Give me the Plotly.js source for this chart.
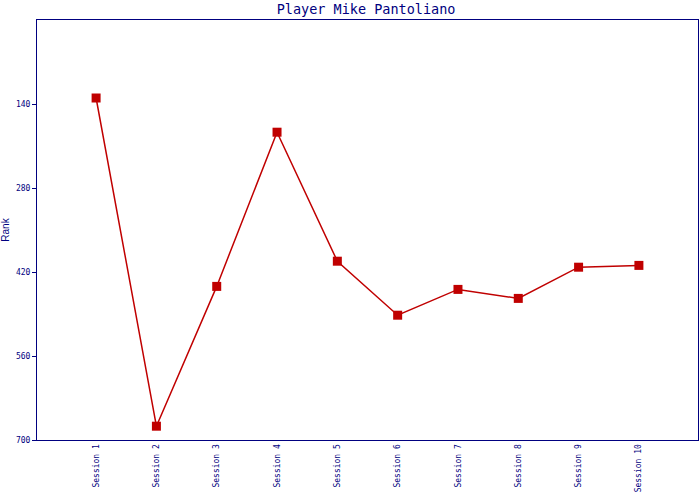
<!DOCTYPE html>
<html>
<head>
<meta charset="utf-8">
<script src="https://cdn.plot.ly/plotly-3.0.1.min.js"></script>
<style>html,body{margin:0;padding:0;background:#fff;}#chart{width:700px;height:500px;}</style>
</head>
<body>
<div id="chart"></div>
<script>
const sessions = ["Session 1","Session 2","Session 3","Session 4","Session 5","Session 6","Session 7","Session 8","Session 9","Session 10"];
const ranks = [130, 677, 444, 187, 402, 492, 449, 464, 412, 409];
const yTicks = [140, 280, 420, 560, 700];
const titleText = "Player Mike Pantoliano";
const yTitle = "Rank";

const navy = "#000080";
const red = "#c00000";

Plotly.newPlot("chart", [{
  x: sessions.map((s, i) => i),
  y: ranks,
  type: "scatter",
  mode: "lines+markers",
  line: {color: red, width: 1.5},
  marker: {symbol: "square", size: 9, color: red},
  hoverinfo: "none"
}], {
  width: 700, height: 500,
  margin: {l: 37, r: 2, t: 20, b: 60},
  paper_bgcolor: "#fff", plot_bgcolor: "#fff",
  showlegend: false,
  title: {text: titleText, x: 0.523, xanchor: "center", y: 0.982, yanchor: "middle",
          font: {family: "DejaVu Sans Mono", size: 13.5, color: navy}},
  xaxis: {
    range: [-0.98, 9.98],
    tickmode: "array",
    tickvals: sessions.map((s, i) => i),
    ticktext: sessions,
    tickangle: -90,
    ticks: "", showgrid: false, zeroline: false,
    showline: true, mirror: true, linecolor: navy, linewidth: 1,
    tickfont: {family: "DejaVu Sans Mono", size: 8, color: navy},
    fixedrange: true
  },
  yaxis: {
    range: [700, 0],
    tickmode: "array",
    tickvals: yTicks,
    ticktext: yTicks.map(String),
    ticks: "outside", ticklen: 4, tickcolor: navy, tickwidth: 1,
    showgrid: false, zeroline: false,
    showline: true, mirror: true, linecolor: navy, linewidth: 1,
    tickfont: {family: "DejaVu Sans Mono", size: 8, color: navy},
    title: {text: yTitle, standoff: 6, font: {family: "Liberation Sans", size: 10, color: navy}},
    fixedrange: true
  }
}, {staticPlot: true});
</script>
</body>
</html>
